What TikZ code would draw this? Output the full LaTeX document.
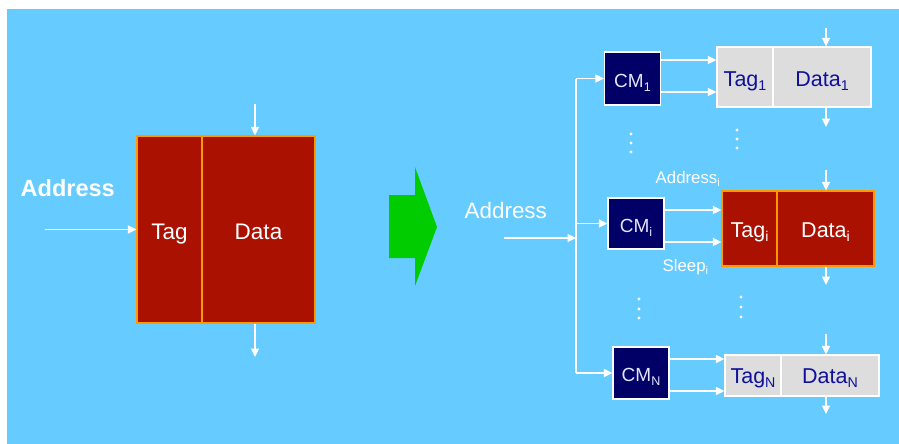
\documentclass[tikz,border=0pt]{standalone}
\usepackage{fontspec}
\setmainfont{Liberation Sans}
\usetikzlibrary{arrows.meta}
\definecolor{bgblue}{HTML}{66CCFF}
\definecolor{cellred}{HTML}{AA1100}
\definecolor{cellorange}{HTML}{FF9900}
\definecolor{cellgray}{HTML}{DDDDDD}
\definecolor{cmnavy}{HTML}{000066}
\definecolor{txtnavy}{HTML}{101099}
\definecolor{arrowgreen}{HTML}{00CC00}
\newcommand{\sbs}[1]{\raisebox{-0.22em}{\scalebox{0.66}{#1}}}
\tikzset{
  cell/.style={rectangle, inner sep=0pt, line width=1.2pt, text depth=0pt},
  redcell/.style={cell, draw=cellorange, fill=cellred, text=white},
  graycell/.style={cell, draw=white, fill=cellgray, text=txtnavy, font=\fontsize{21.5}{24}\selectfont},
  cmbox/.style={rectangle, inner sep=0pt, draw=white, line width=1.2pt, fill=cmnavy, text=white!90!blue, minimum width=56pt, font=\fontsize{19}{22}\selectfont, text height=17.6pt, text depth=0pt},
  wire/.style={white, line width=1.3pt},
  arr/.style={wire, -{Triangle[length=8.5pt,width=8pt]}},
  lbl/.style={text=white, inner sep=0pt},
  dot/.style={circle, fill=white, inner sep=0pt, minimum size=3.4pt}
}
\begin{document}
\begin{tikzpicture}[x=1pt,y=-1pt]
\useasboundingbox (0,0) rectangle (899,444);
\fill[white] (0,0) rectangle (899,444);
\fill[bgblue] (7,9) rectangle (899,444);

% ---------- left: single cache ----------
\node[redcell, minimum width=65pt, minimum height=187pt, text height=19pt, font=\fontsize{22.5}{26}\selectfont] (tag0) at (169.5,229.5) {Tag};
\node[redcell, minimum width=113pt, minimum height=187pt, text height=19pt, font=\fontsize{22.5}{26}\selectfont] (data0) at (258.5,229.5) {Data};
\node[lbl, font=\bfseries\fontsize{23.5}{26}\selectfont, anchor=west] (addr0) at (20.5,188) {Address};
\coordinate (a0) at (45,229.5);
\draw[arr] (a0) -- (tag0.west);
\coordinate (d0in) at (255,104);
\coordinate (d0out) at (255,357);
\draw[arr] (d0in) -- (d0in |- data0.north);
\draw[arr] (d0out |- data0.south) -- (d0out);

% ---------- green transformation arrow ----------
\fill[arrowgreen] (389,195) -- (415,195) -- (415,167) -- (437,227) -- (415,286) -- (415,258) -- (389,258) -- cycle;

% ---------- right: partitioned cache ----------
\node[lbl, font=\fontsize{22.4}{26}\selectfont, anchor=west] (addr) at (464.5,210) {Address};

\node[cmbox, minimum height=53pt] (cm1) at (632.5,78.5) {CM\sbs{1}};
\node[cmbox, minimum height=51pt] (cmi) at (636,223.5) {CM\sbs{i}};
\node[cmbox, minimum height=52pt] (cmN) at (641,373) {CM\sbs{N}};

\node[graycell, minimum width=56pt, minimum height=60pt, text height=18pt] (tag1) at (745,77) {Tag\sbs{1}};
\node[graycell, minimum width=98pt, minimum height=60pt, text height=18pt] (data1) at (822,77) {Data\sbs{1}};
\node[redcell, minimum width=55pt, minimum height=75pt, text height=17pt, font=\fontsize{21.5}{24}\selectfont] (tagi) at (749.5,228.5) {Tag\sbs{i}};
\node[redcell, minimum width=97pt, minimum height=75pt, text height=17pt, font=\fontsize{21.5}{24}\selectfont] (datai) at (825.5,228.5) {Data\sbs{i}};
\node[graycell, minimum width=56pt, minimum height=41pt, text height=15.5pt] (tagN) at (753,375.5) {Tag\sbs{N}};
\node[graycell, minimum width=98pt, minimum height=41pt, text height=15.5pt] (dataN) at (830,375.5) {Data\sbs{N}};

% address bus
\coordinate (ain) at (504,238);
\coordinate (bus) at (576,238);
\coordinate (bus1) at (576,78.5);
\coordinate (busN) at (576,373);
\draw[arr] (ain) -- (bus);
\draw[wire] (bus1) -- (busN);
\draw[arr] (bus1) -- (cm1.west);
\draw[arr] (cmi.west -| bus) -- (cmi.west);
\draw[arr] (busN) -- (cmN.west);

% CM -> tag arrows
\draw[arr] ([yshift=18.5pt]cm1.east) -- ([yshift=18.5pt]cm1.east -| tag1.west);
\draw[arr] ([yshift=-13.5pt]cm1.east) -- ([yshift=-13.5pt]cm1.east -| tag1.west);
\draw[arr] ([yshift=13.5pt]cmi.east) -- ([yshift=13.5pt]cmi.east -| tagi.west);
\draw[arr] ([yshift=-18.5pt]cmi.east) -- ([yshift=-18.5pt]cmi.east -| tagi.west);
\draw[arr] ([yshift=14pt]cmN.east) -- ([yshift=14pt]cmN.east -| tagN.west);
\draw[arr] ([yshift=-18pt]cmN.east) -- ([yshift=-18pt]cmN.east -| tagN.west);

\node[lbl, font=\fontsize{16.8}{20}\selectfont, anchor=west] (addri) at (655.5,179) {Address\sbs{i}};
\node[lbl, font=\fontsize{16.8}{20}\selectfont, anchor=west] (sleepi) at (662.5,267) {Sleep\sbs{i}};

% data in/out arrows
\coordinate (d1in) at (826,28);  \coordinate (d1out) at (826,127);
\coordinate (diin) at (826,170); \coordinate (diout) at (826,285);
\coordinate (dNin) at (826,334); \coordinate (dNout) at (826,414);
\draw[arr] (d1in) -- (d1in |- data1.north);
\draw[arr] (d1out |- data1.south) -- (d1out);
\draw[arr] (diin) -- (diin |- datai.north);
\draw[arr] (diout |- datai.south) -- (diout);
\draw[arr] (dNin) -- (dNin |- dataN.north);
\draw[arr] (dNout |- dataN.south) -- (dNout);

% vertical ellipses
\foreach \y [count=\k] in {134,143,152} \node[dot] (da\k) at (631,\y) {};
\foreach \y [count=\k] in {130,139,148} \node[dot] (db\k) at (737,\y) {};
\foreach \y [count=\k] in {299,309,318} \node[dot] (dc\k) at (639,\y) {};
\foreach \y [count=\k] in {297,307,317} \node[dot] (dd\k) at (741,\y) {};
\end{tikzpicture}
\end{document}
